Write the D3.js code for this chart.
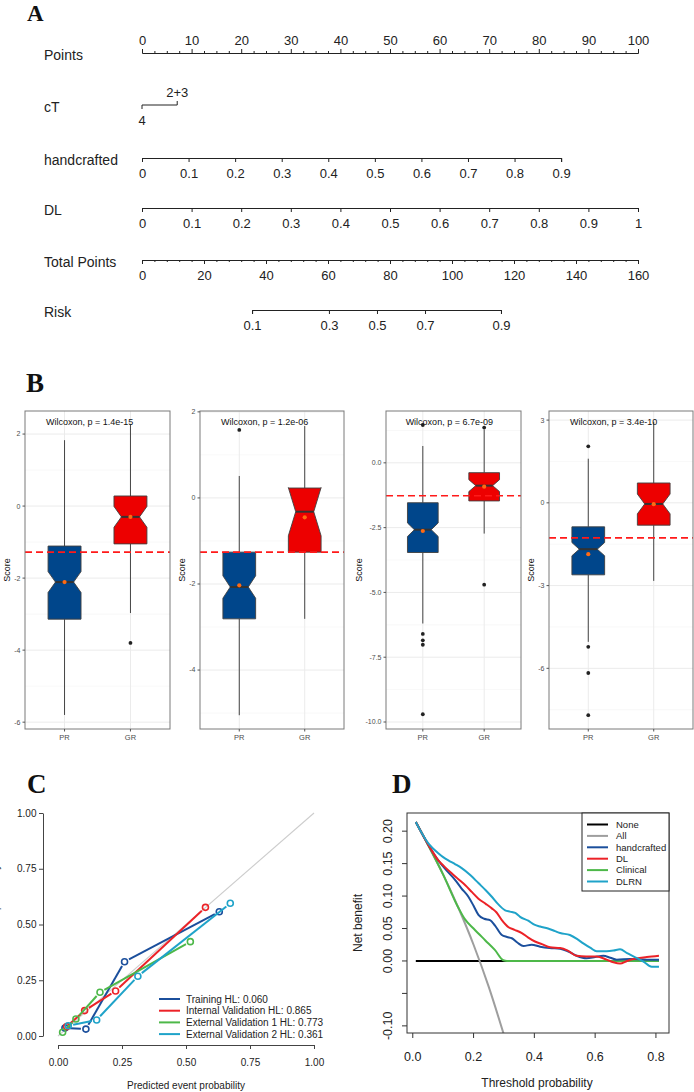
<!DOCTYPE html>
<html>
<head>
<meta charset="utf-8">
<script src="https://cdn.jsdelivr.net/npm/d3@7"></script>
<style>
  body { margin: 0; background: #fff; }
  svg { display: block; }
</style>
</head>
<body>
<div id="chart"></div>
<script>
// ---------- A: nomogram ----------
const pointsTicks = [0, 10, 20, 30, 40, 50, 60, 70, 80, 90, 100];
const pointsMinor = [2.5, 5, 7.5, 12.5, 15, 17.5, 22.5, 25, 27.5, 32.5, 35, 37.5, 42.5, 45, 47.5, 52.5, 55, 57.5,
                     62.5, 65, 67.5, 72.5, 75, 77.5, 82.5, 85, 87.5, 92.5, 95, 97.5];
const ctLevels = ["4", "2+3"];
const ctPoints = [0, 7.1];
const handTicks = [0, 0.1, 0.2, 0.3, 0.4, 0.5, 0.6, 0.7, 0.8, 0.9];
const handMaxPoints = 84.5;          // points at handcrafted = 0.9
const dlTicks = [0, 0.1, 0.2, 0.3, 0.4, 0.5, 0.6, 0.7, 0.8, 0.9, 1];
const totalTicks = [0, 20, 40, 60, 80, 100, 120, 140, 160];
const totalMinor = [4, 8, 12, 16, 24, 28, 32, 36, 44, 48, 52, 56, 64, 68, 72, 76, 84, 88, 92, 96,
                    104, 108, 112, 116, 124, 128, 132, 136, 144, 148, 152, 156];
const riskLabels = ["0.1", "0.3", "0.5", "0.7", "0.9"];
const riskTotalPoints = [35.5, 60.3, 75.8, 91.3, 115.8];

// ---------- B: boxplots ----------
const groups = ["PR", "GR"];
const wilcoxonP = ["1.4e-15", "1.2e-06", "6.7e-09", "3.4e-10"];
const yTicksB = [[-6, -4, -2, 0, 2], [-4, -2, 0, 2], [-10, -7.5, -5, -2.5, 0], [-6, -3, 0, 3]];
const yDomainsB = [[-6.19, 2.64], [-5.37, 2.02], [-10.27, 2.0], [-8.2, 3.33]];
const cutoffB = [-1.28, -1.26, -1.27, -1.27];
// [lower whisker, Q1, median, Q3, upper whisker]
const prStats = [[-5.8, -3.14, -2.11, -1.11, 1.83], [-5.05, -2.81, -2.07, -1.26, 0.51],
                 [-6.2, -3.46, -2.58, -1.54, 0.65], [-5.04, -2.61, -1.68, -0.87, 1.6]];
const grStats = [[-2.97, -1.05, -0.30, 0.28, 2.25], [-2.81, -1.26, -0.32, 0.23, 1.67],
                 [-2.73, -1.47, -0.88, -0.38, 1.28], [-2.83, -0.81, -0.04, 0.72, 2.94]];
const prNotch = [0.29, 0.26, 0.26, 0.24];
const grNotch = [0.29, 0.56, 0.23, 0.36];
const prMean = [-2.11, -2.03, -2.63, -1.86];
const grMean = [-0.30, -0.45, -0.92, -0.05];
const prOutliers = [[], [1.58], [1.46, -6.6, -6.85, -7.02, -9.7], [2.05, -5.22, -6.17, -7.7]];
const grOutliers = [[-3.8], [], [1.36, -4.7], []];

// ---------- C: calibration ----------
const calNames = ["Training HL: 0.060", "Internal Validation HL: 0.865",
                  "External Validation 1 HL: 0.773", "External Validation 2 HL: 0.361"];
const calPredicted = [[0.027, 0.109, 0.26, 0.63], [0.034, 0.104, 0.225, 0.576],
                      [0.018, 0.07, 0.164, 0.517], [0.04, 0.151, 0.312, 0.673]];
const calObserved = [[0.036, 0.031, 0.333, 0.557], [0.042, 0.114, 0.202, 0.577],
                     [0.017, 0.076, 0.196, 0.423], [0.046, 0.072, 0.268, 0.595]];
const calTicks = [0, 0.25, 0.5, 0.75, 1];

// ---------- D: decision curves ----------
const dcaNames = ["None", "All", "handcrafted", "DL", "Clinical", "DLRN"];
const noneCurve = [[0.01, 0], [0.81, 0]];
const allCurve = [[0.01, 0.214], [0.05, 0.179], [0.1, 0.133], [0.15, 0.082], [0.2, 0.025], [0.25, -0.04], [0.3, -0.114]];
const handCurve = [[0.01, 0.214], [0.05, 0.18], [0.084, 0.155], [0.11, 0.14], [0.139, 0.125], [0.16, 0.112],
  [0.183, 0.099], [0.2, 0.085], [0.216, 0.071], [0.235, 0.065], [0.254, 0.063], [0.27, 0.055], [0.293, 0.04],
  [0.31, 0.037], [0.326, 0.035], [0.345, 0.028], [0.364, 0.023], [0.391, 0.025], [0.419, 0.022], [0.45, 0.02],
  [0.485, 0.019], [0.51, 0.015], [0.539, 0.008], [0.572, 0.004], [0.6, 0.006], [0.627, 0.008], [0.65, 0.005],
  [0.671, 0.002], [0.715, 0.003], [0.77, 0.002], [0.81, 0.002]];
const dlCurve = [[0.01, 0.214], [0.05, 0.18], [0.084, 0.155], [0.105, 0.145], [0.128, 0.135], [0.15, 0.126],
  [0.172, 0.117], [0.195, 0.106], [0.216, 0.096], [0.24, 0.088], [0.26, 0.081], [0.275, 0.075], [0.293, 0.063],
  [0.315, 0.052], [0.335, 0.048], [0.359, 0.043], [0.38, 0.036], [0.402, 0.03], [0.425, 0.026], [0.452, 0.021],
  [0.485, 0.02], [0.51, 0.016], [0.539, 0.008], [0.57, 0.007], [0.605, 0.007], [0.638, 0.002], [0.66, -0.002],
  [0.682, -0.004], [0.705, 0.0], [0.726, 0.003], [0.77, 0.006], [0.81, 0.008]];
const clinicalCurve = [[0.01, 0.214], [0.05, 0.179], [0.1, 0.133], [0.15, 0.082], [0.172, 0.064], [0.2, 0.05],
  [0.238, 0.032], [0.27, 0.017], [0.298, 0.001], [0.31, 0], [0.81, 0]];
const dlrnCurve = [[0.01, 0.214], [0.05, 0.182], [0.084, 0.166], [0.1, 0.16], [0.117, 0.155], [0.14, 0.149],
  [0.161, 0.143], [0.19, 0.132], [0.216, 0.12], [0.24, 0.109], [0.26, 0.099], [0.28, 0.088], [0.304, 0.078],
  [0.32, 0.076], [0.337, 0.074], [0.353, 0.068], [0.38, 0.062], [0.4, 0.056], [0.419, 0.053], [0.445, 0.05],
  [0.468, 0.046], [0.485, 0.043], [0.517, 0.04], [0.54, 0.034], [0.561, 0.027], [0.585, 0.02], [0.605, 0.015],
  [0.638, 0.015], [0.66, 0.016], [0.682, 0.018], [0.705, 0.012], [0.726, 0.007], [0.759, -0.001], [0.786, -0.009],
  [0.81, -0.009]];
const dcaXTicks = [0, 0.2, 0.4, 0.6, 0.8];
const dcaYTicks = [-0.1, -0.05, 0, 0.05, 0.1, 0.15, 0.2];

// ---------- drawing ----------
const FONT = "'Liberation Sans', Arial, Helvetica, sans-serif";
const SERIF = "'Liberation Serif', 'Times New Roman', serif";
const blue = "#1b4f9c", red = "#ec2227", green = "#4db849", cyan = "#1fa3c9";

const svg = d3.select("#chart").append("svg")
    .attr("width", 694).attr("height", 1092)
    .attr("font-family", FONT);

function letter(t, x, y, size) {
    svg.append("text").attr("x", x).attr("y", y)
        .attr("font-family", SERIF).attr("font-weight", "bold")
        .attr("font-size", size).attr("fill", "#111").text(t);
}

// ===== A =====
letter("A", 27, 21, 23);
const gA = svg.append("g");
const ptsX = d3.scaleLinear().domain([0, 100]).range([142, 638]);
const totX = d3.scaleLinear().domain([0, 160]).range([142, 638]);
const fmtA = d => String(+d.toFixed(2));

function nomAxis(scale, y, majors, fmt, minors, top) {
    const mk = () => (top ? d3.axisTop(scale) : d3.axisBottom(scale)).tickSizeOuter(0);
    const g = gA.append("g").attr("transform", `translate(0,${y})`)
        .call(mk().tickValues(majors).tickSize(4).tickPadding(top ? 4 : 6.5).tickFormat(fmt));
    g.attr("font-family", FONT).attr("font-size", 13);
    g.selectAll("line, path").attr("stroke", "#222");
    g.selectAll("text").attr("fill", "#222");
    if (minors) {
        const g2 = gA.append("g").attr("transform", `translate(0,${y})`)
            .call(mk().tickValues(minors).tickSize(2).tickFormat(""));
        g2.select(".domain").remove();
        g2.selectAll("line").attr("stroke", "#222");
    }
}

const rowLabels = ["Points", "cT", "handcrafted", "DL", "Total Points", "Risk"];
const rowYs = [53, 105, 158, 208, 260, 310];
rowLabels.forEach((r, i) => {
    gA.append("text").attr("x", 44).attr("y", rowYs[i] + 2).attr("dy", "0.35em")
        .attr("font-size", 14).attr("fill", "#222").text(r);
});

nomAxis(ptsX, rowYs[0], pointsTicks, d => d, pointsMinor, true);

// cT
gA.append("line").attr("x1", ptsX(ctPoints[0])).attr("x2", ptsX(ctPoints[1]))
    .attr("y1", rowYs[1]).attr("y2", rowYs[1]).attr("stroke", "#222");
ctPoints.forEach((p, i) => {
    const up = i === 1;
    gA.append("line").attr("x1", ptsX(p)).attr("x2", ptsX(p))
        .attr("y1", rowYs[1]).attr("y2", rowYs[1] + (up ? -4 : 4)).attr("stroke", "#222");
    gA.append("text").attr("x", ptsX(p)).attr("y", rowYs[1] + (up ? -8.5 : 19.5))
        .attr("text-anchor", "middle").attr("font-size", 13).attr("fill", "#222").text(ctLevels[i]);
});

const handX = d3.scaleLinear().domain([0, 0.9]).range([ptsX(0), ptsX(handMaxPoints)]);
nomAxis(handX, rowYs[2], handTicks, fmtA, null, false);
const dlX = d3.scaleLinear().domain([0, 1]).range([ptsX(0), ptsX(100)]);
nomAxis(dlX, rowYs[3], dlTicks, fmtA, null, false);
nomAxis(totX, rowYs[4], totalTicks, d => d, totalMinor, false);
const riskX = d3.scaleLinear()
    .domain([riskTotalPoints[0], riskTotalPoints[riskTotalPoints.length - 1]])
    .range([totX(riskTotalPoints[0]), totX(riskTotalPoints[riskTotalPoints.length - 1])]);
nomAxis(riskX, rowYs[5], riskTotalPoints, (d, i) => riskLabels[i], null, false);

// ===== B =====
letter("B", 26, 392, 27);
const pTop = 411, pBot = 729;
const panelXs = [[25, 170], [200, 344], [386, 521], [549, 693]];

panelXs.forEach(([x0, x1], k) => {
    const g = svg.append("g");
    const x = d3.scaleLinear().domain([0.4, 2.6]).range([x0, x1]);
    const y = d3.scaleLinear().domain(yDomainsB[k]).range([pBot, pTop]);
    const ticks = yTicksB[k];
    const step = ticks[1] - ticks[0];
    const minors = [ticks[0] - step / 2].concat(ticks.map(t => t + step / 2))
        .filter(v => v > yDomainsB[k][0] && v < yDomainsB[k][1]);

    // grid
    g.selectAll(".mn").data(minors).enter().append("line")
        .attr("x1", x0).attr("x2", x1).attr("y1", d => y(d)).attr("y2", d => y(d))
        .attr("stroke", "#f4f4f4").attr("stroke-width", 0.6);
    g.selectAll(".mj").data(ticks).enter().append("line")
        .attr("x1", x0).attr("x2", x1).attr("y1", d => y(d)).attr("y2", d => y(d))
        .attr("stroke", "#ebebeb").attr("stroke-width", 1);
    g.selectAll(".vg").data([1, 2]).enter().append("line")
        .attr("x1", d => x(d)).attr("x2", d => x(d)).attr("y1", pTop).attr("y2", pBot)
        .attr("stroke", "#ebebeb").attr("stroke-width", 1);

    const stats = [prStats[k], grStats[k]];
    const notch = [prNotch[k], grNotch[k]];
    const means = [prMean[k], grMean[k]];
    const outs = [prOutliers[k], grOutliers[k]];
    const fills = ["#00468b", "#ed0000"];

    stats.forEach((s, i) => {
        const c = i + 1;
        const [lo, q1, med, q3, hi] = s;
        // whiskers
        g.append("line").attr("x1", x(c)).attr("x2", x(c)).attr("y1", y(q3)).attr("y2", y(hi))
            .attr("stroke", "#444").attr("stroke-width", 1);
        g.append("line").attr("x1", x(c)).attr("x2", x(c)).attr("y1", y(q1)).attr("y2", y(lo))
            .attr("stroke", "#444").attr("stroke-width", 1);
        // outliers
        g.selectAll(null).data(outs[i]).enter().append("circle")
            .attr("cx", x(c)).attr("cy", d => y(d)).attr("r", 1.9).attr("fill", "#222");
        // notched box
        const xmin = x(c - 0.25), xmax = x(c + 0.25);
        const nxmin = x(c - 0.25 * 0.55), nxmax = x(c + 0.25 * 0.55);
        const nu = med + notch[i], nl = med - notch[i];
        const poly = [[xmin, y(q3)], [xmin, y(nu)], [nxmin, y(med)], [xmin, y(nl)], [xmin, y(q1)],
                      [xmax, y(q1)], [xmax, y(nl)], [nxmax, y(med)], [xmax, y(nu)], [xmax, y(q3)]];
        g.append("polygon").attr("points", poly.map(p => p.join(",")).join(" "))
            .attr("fill", fills[i]).attr("stroke", "#404040").attr("stroke-width", 0.9);
        g.append("line").attr("x1", nxmin).attr("x2", nxmax).attr("y1", y(med)).attr("y2", y(med))
            .attr("stroke", "#333").attr("stroke-width", 2);
        g.append("circle").attr("cx", x(c)).attr("cy", y(means[i])).attr("r", 2.1).attr("fill", "#ff6a13");
    });

    // cutoff line
    g.append("line").attr("x1", x0).attr("x2", x1).attr("y1", y(cutoffB[k])).attr("y2", y(cutoffB[k]))
        .attr("stroke", "#ff1a1a").attr("stroke-width", 1.6).attr("stroke-dasharray", "7,4");

    g.append("text").attr("x", x(0.72)).attr("y", 425).attr("font-size", 9).attr("fill", "#111")
        .text(`Wilcoxon, p = ${wilcoxonP[k]}`);

    // border
    g.append("rect").attr("x", x0).attr("y", pTop).attr("width", x1 - x0).attr("height", pBot - pTop)
        .attr("fill", "none").attr("stroke", "#7a7a7a").attr("stroke-width", 1);

    // y axis
    const lab = g.selectAll(".yl").data(ticks).enter().append("text")
        .attr("x", x0 - 4.5).attr("y", d => y(d)).attr("dy", "0.35em").attr("text-anchor", "end")
        .attr("font-size", 7).attr("fill", "#4d4d4d")
        .text(d => k === 2 ? d.toFixed(1) : String(d));
    g.selectAll(".yt").data(ticks).enter().append("line")
        .attr("x1", x0 - 2.5).attr("x2", x0).attr("y1", d => y(d)).attr("y2", d => y(d))
        .attr("stroke", "#555");
    let maxW = 0;
    lab.each(function () { maxW = Math.max(maxW, this.getComputedTextLength()); });
    const sx = x0 - 4.5 - maxW - 4;
    g.append("text").attr("transform", `translate(${sx},${(pTop + pBot) / 2}) rotate(-90)`)
        .attr("text-anchor", "middle").attr("font-size", 9).attr("fill", "#111").text("Score");

    // x axis
    groups.forEach((gr, i) => {
        g.append("line").attr("x1", x(i + 1)).attr("x2", x(i + 1)).attr("y1", pBot).attr("y2", pBot + 2.5)
            .attr("stroke", "#555");
        g.append("text").attr("x", x(i + 1)).attr("y", pBot + 11).attr("text-anchor", "middle")
            .attr("font-size", 7.5).attr("fill", "#4d4d4d").text(gr);
    });
});

// ===== C =====
letter("C", 27, 793, 27);
const gC = svg.append("g");
const xC = d3.scaleLinear().domain([0, 1]).range([58, 314]);
const yC = d3.scaleLinear().domain([0, 1]).range([1036, 813]);
const calColors = [blue, red, green, cyan];

const ayC = gC.append("g").attr("transform", "translate(43,0)")
    .call(d3.axisLeft(yC).tickValues(calTicks).tickSize(4).tickSizeOuter(0).tickPadding(2.5)
        .tickFormat(d => d.toFixed(2)));
const axC = gC.append("g").attr("transform", "translate(0,1045)")
    .call(d3.axisBottom(xC).tickValues(calTicks).tickSize(4).tickSizeOuter(0).tickPadding(10)
        .tickFormat(d => d.toFixed(2)));
[ayC, axC].forEach(a => {
    a.attr("font-family", FONT).attr("font-size", 10);
    a.selectAll("line, path").attr("stroke", "#444");
    a.selectAll("text").attr("fill", "#222");
});
gC.append("text").attr("x", 186).attr("y", 1089).attr("text-anchor", "middle")
    .attr("font-size", 10).attr("fill", "#222").text("Predicted event probability");
gC.append("text").attr("transform", "translate(-1,924) rotate(-90)").attr("text-anchor", "middle")
    .attr("font-size", 10).attr("fill", "#222").text("Observed event probability");

gC.append("line").attr("x1", xC(0)).attr("y1", yC(0)).attr("x2", xC(1)).attr("y2", yC(1))
    .attr("stroke", "#cdcdcd").attr("stroke-width", 1.1);

calPredicted.forEach((px, s) => {
    const pts = px.map((v, i) => [xC(v), yC(calObserved[s][i])]);
    const gap = 5;
    for (let i = 0; i < pts.length - 1; i++) {
        const [ax, ay] = pts[i], [bx, by] = pts[i + 1];
        const L = Math.hypot(bx - ax, by - ay);
        if (L <= 2 * gap) continue;
        const ux = (bx - ax) / L, uy = (by - ay) / L;
        gC.append("line").attr("x1", ax + ux * gap).attr("y1", ay + uy * gap)
            .attr("x2", bx - ux * gap).attr("y2", by - uy * gap)
            .attr("stroke", calColors[s]).attr("stroke-width", 2);
    }
    gC.selectAll(null).data(pts).enter().append("circle")
        .attr("cx", d => d[0]).attr("cy", d => d[1]).attr("r", 3)
        .attr("fill", "none").attr("stroke", calColors[s]).attr("stroke-width", 1.6);
});

calNames.forEach((n, i) => {
    const yy = 999 + i * 11.7;
    gC.append("line").attr("x1", 159).attr("x2", 180).attr("y1", yy).attr("y2", yy)
        .attr("stroke", calColors[i]).attr("stroke-width", 2);
    gC.append("text").attr("x", 186).attr("y", yy).attr("dy", "0.35em")
        .attr("font-size", 10).attr("fill", "#222").text(n);
});

// ===== D =====
letter("D", 392, 793, 27);
const gD = svg.append("g");
const xD = d3.scaleLinear().domain([-0.019, 0.843]).range([407, 669]);
const yD = d3.scaleLinear().domain([-0.111, 0.228]).range([1033, 813]);

gD.append("clipPath").attr("id", "clipD").append("rect")
    .attr("x", 407).attr("y", 813).attr("width", 262).attr("height", 220);

const dcaCurves = [noneCurve, allCurve, clinicalCurve, handCurve, dlCurve, dlrnCurve];
const dcaCurveColors = ["#000", "#9e9e9e", green, blue, red, cyan];
const lineD = d3.line().x(d => xD(d[0])).y(d => yD(d[1])).curve(d3.curveMonotoneX);
dcaCurves.forEach((c, i) => {
    gD.append("path").datum(c).attr("d", lineD).attr("clip-path", "url(#clipD)")
        .attr("fill", "none").attr("stroke", dcaCurveColors[i]).attr("stroke-width", 2);
});

gD.append("rect").attr("x", 407).attr("y", 813).attr("width", 262).attr("height", 220)
    .attr("fill", "none").attr("stroke", "#333").attr("stroke-width", 1);

// axes
dcaXTicks.forEach(t => {
    gD.append("line").attr("x1", xD(t)).attr("x2", xD(t)).attr("y1", 1033).attr("y2", 1038).attr("stroke", "#333");
    gD.append("text").attr("x", xD(t)).attr("y", 1060.5).attr("text-anchor", "middle")
        .attr("font-size", 12.5).attr("fill", "#222").text(t.toFixed(1));
});
dcaYTicks.forEach(t => {
    gD.append("line").attr("x1", 402).attr("x2", 407).attr("y1", yD(t)).attr("y2", yD(t)).attr("stroke", "#333");
    if (t === -0.05) return;           // label dropped in the original
    gD.append("text").attr("transform", `translate(391.5,${yD(t)}) rotate(-90)`)
        .attr("text-anchor", "middle").attr("font-size", 12.5).attr("fill", "#222").text(t.toFixed(2));
});
gD.append("text").attr("x", 537).attr("y", 1087).attr("text-anchor", "middle")
    .attr("font-size", 12).attr("fill", "#222").text("Threshold probability");
gD.append("text").attr("transform", "translate(362,923) rotate(-90)").attr("text-anchor", "middle")
    .attr("font-size", 12).attr("fill", "#222").text("Net benefit");

// legend
gD.append("rect").attr("x", 582).attr("y", 813).attr("width", 87).attr("height", 78)
    .attr("fill", "#fff").attr("stroke", "#222").attr("stroke-width", 1);
const legColors = ["#000", "#9e9e9e", blue, red, green, cyan];
dcaNames.forEach((n, i) => {
    const yy = 824.5 + i * 11.4;
    gD.append("line").attr("x1", 587).attr("x2", 608).attr("y1", yy).attr("y2", yy)
        .attr("stroke", legColors[i]).attr("stroke-width", 2);
    gD.append("text").attr("x", 616).attr("y", yy).attr("dy", "0.35em")
        .attr("font-size", 9.5).attr("fill", "#222").text(n);
});
</script>
</body>
</html>
